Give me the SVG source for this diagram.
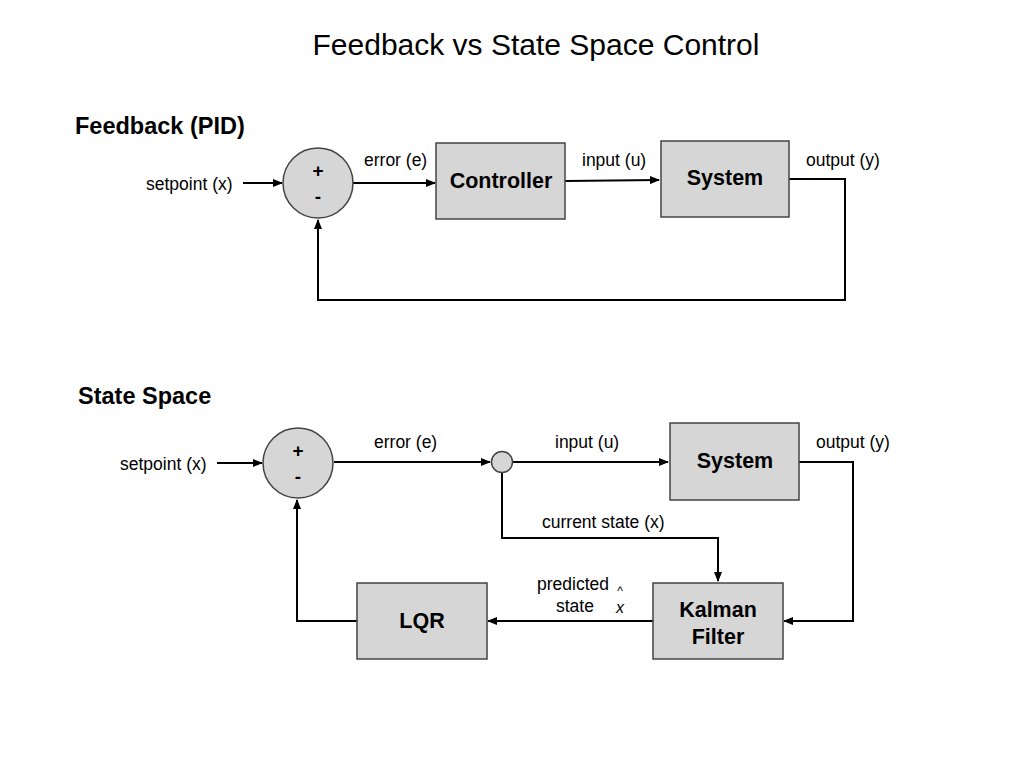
<svg xmlns="http://www.w3.org/2000/svg" width="1024" height="768" viewBox="0 0 1024 768">
<style>
text{font-family:"Liberation Sans",Arial,sans-serif;fill:#000}
.lbl{font-size:17.5px}
.box{fill:#d6d6d6;stroke:#444;stroke-width:1.5}
.bl{font-size:21.5px;font-weight:bold;text-anchor:middle}
.sec{font-size:23.5px;font-weight:bold}
.ln{fill:none;stroke:#000;stroke-width:2}
.sign{font-size:19px;font-weight:bold;text-anchor:middle}
</style>
<defs>
<marker id="ah" markerWidth="10" markerHeight="8" refX="9" refY="4" orient="auto" markerUnits="userSpaceOnUse">
<path d="M0,0 L10,4 L0,8 z" fill="#000"/>
</marker>
</defs>
<rect width="1024" height="768" fill="#fff"/>
<text x="536" y="55" font-size="30" text-anchor="middle">Feedback vs State Space Control</text>
<text class="sec" x="75" y="134">Feedback (PID)</text>
<text class="sec" x="78" y="404">State Space</text>

<g id="connectors">
<path class="ln" d="M243,183 L282,183" marker-end="url(#ah)"/>
<path class="ln" d="M353,183 L435,183" marker-end="url(#ah)"/>
<path class="ln" d="M565,181 L659,180" marker-end="url(#ah)"/>
<path class="ln" d="M789,179 L845,179 L845,300 L318,300 L318,220" marker-end="url(#ah)"/>
<path class="ln" d="M217,463 L262,463" marker-end="url(#ah)"/>
<path class="ln" d="M334,462 L490,462" marker-end="url(#ah)"/>
<path class="ln" d="M512,462 L668,462" marker-end="url(#ah)"/>
<path class="ln" d="M502,473 L502,538 L718,538 L718,581" marker-end="url(#ah)"/>
<path class="ln" d="M799,462 L853,462 L853,621 L784,621" marker-end="url(#ah)"/>
<path class="ln" d="M653,621 L488,621" marker-end="url(#ah)"/>
<path class="ln" d="M357,621 L297,621 L297,500" marker-end="url(#ah)"/>
</g>

<g id="labels">
<text class="lbl" x="146" y="190">setpoint (x)</text>
<text class="lbl" x="364" y="166">error (e)</text>
<text class="lbl" x="582" y="166">input (u)</text>
<text class="lbl" x="806" y="166">output (y)</text>
<text class="lbl" x="120" y="470">setpoint (x)</text>
<text class="lbl" x="374" y="448">error (e)</text>
<text class="lbl" x="555" y="448">input (u)</text>
<text class="lbl" x="816" y="448">output (y)</text>
<text class="lbl" x="542" y="528">current state (x)</text>
<text class="lbl" x="537" y="590">predicted</text>
<text class="lbl" x="556" y="612">state</text>
<text x="620" y="595" font-size="12" text-anchor="middle">^</text>
<text x="620" y="613" font-size="16" font-style="italic" text-anchor="middle">x</text>
</g>

<g id="sum1">
<circle cx="318" cy="183" r="35" class="box"/>
<text class="sign" x="318" y="177">+</text>
<text class="sign" x="318" y="203">-</text>
</g>
<g id="controller">
<rect x="436" y="143" width="129" height="76" class="box"/>
<text class="bl" x="501" y="188">Controller</text>
</g>
<g id="system1">
<rect x="661" y="141" width="128" height="76" class="box"/>
<text class="bl" x="725" y="185">System</text>
</g>

<g id="sum2">
<circle cx="298" cy="463" r="35" class="box"/>
<text class="sign" x="298" y="457">+</text>
<text class="sign" x="298" y="483">-</text>
</g>
<g id="junction">
<circle cx="502" cy="462" r="10.5" class="box"/>
</g>
<g id="system2">
<rect x="670" y="423" width="129" height="77" class="box"/>
<text class="bl" x="735" y="468">System</text>
</g>
<g id="kalman">
<rect x="653" y="583" width="130" height="76" class="box"/>
<text class="bl" x="718" y="617">Kalman</text>
<text class="bl" x="718" y="644">Filter</text>
</g>
<g id="lqr">
<rect x="357" y="583" width="130" height="76" class="box"/>
<text class="bl" x="422" y="628">LQR</text>
</g>
</svg>
